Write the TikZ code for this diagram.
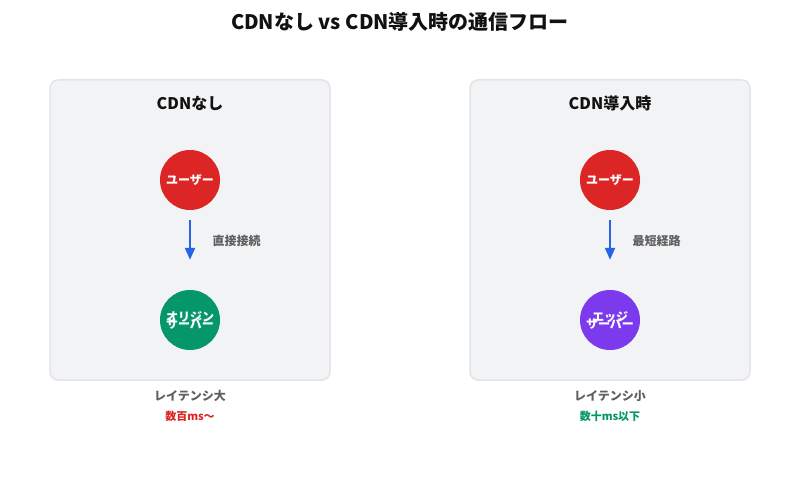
\documentclass[tikz,border=0pt]{standalone}
\usepackage{fontspec}
\setmainfont{Noto Sans CJK JP}
\usetikzlibrary{arrows.meta,positioning}
\definecolor{panelfill}{HTML}{F2F3F5}
\definecolor{paneldraw}{HTML}{E2E4E7}
\definecolor{usered}{HTML}{DC2626}
\definecolor{origingreen}{HTML}{059669}
\definecolor{edgepurple}{HTML}{7C3AED}
\definecolor{flowblue}{HTML}{2563EB}
\definecolor{textgray}{HTML}{5F5F5F}
\definecolor{titleblack}{HTML}{111111}
\tikzset{
    panel/.style = {
        draw=paneldraw,
        fill=panelfill,
        line width=1.5pt,
        rectangle,
        rounded corners=8pt,
        minimum width=280pt,
        minimum height=300pt
    },
    actor/.style = {
        circle,
        inner sep=0pt,
        minimum size=60pt,
        text=white,
        align=center,
        font=\fontsize{12}{14}\selectfont\bfseries
    },
    paneltitle/.style = {
        text=titleblack,
        font=\fontsize{16}{18}\selectfont\bfseries
    },
    lbl/.style = {
        text=textgray,
        font=\fontsize{12}{14}\selectfont\bfseries
    },
    note/.style = {
        font=\fontsize{11}{13}\selectfont\bfseries
    },
    flow/.style = {
        -{Triangle[length=12pt,width=10pt]},
        draw=flowblue,
        line width=2pt,
        shorten <=10pt,
        shorten >=30pt
    }
}
\begin{document}
\begin{tikzpicture}[x=1pt,y=-1pt,node distance=2cm]
    \useasboundingbox (0,0) rectangle (800,500);
    % title
    \node [text=titleblack,font=\fontsize{20}{24}\selectfont\bfseries] (title) at (400,22) {CDNなし vs CDN導入時の通信フロー};

    % nodes, left
    \node [panel] (panelA) at (190,230) {};
    \node [paneltitle] (titleA) at (190,103) {CDNなし};
    \node [actor,fill=usered,below of=titleA,node distance=77pt] (userA) {ユーザー};
    \node [actor,fill=origingreen,below of=userA,node distance=140pt] (origin) {オリジン\\[-7pt]サーバー};
    \node [lbl,anchor=west] (directlbl) at (209,241) {直接接続};
    \node [lbl,below of=origin,node distance=76pt] (latA) {レイテンシ大};
    \node [note,text=usered,below of=latA,node distance=20pt] (msA) {数百ms〜};

    % nodes, right
    \node [panel] (panelB) at (610,230) {};
    \node [paneltitle] (titleB) at (610,103) {CDN導入時};
    \node [actor,fill=usered,below of=titleB,node distance=77pt] (userB) {ユーザー};
    \node [actor,fill=edgepurple,below of=userB,node distance=140pt] (edge) {エッジ\\[-7pt]サーバー};
    \node [lbl,anchor=west] (shortlbl) at (629,241) {最短経路};
    \node [lbl,below of=edge,node distance=76pt] (latB) {レイテンシ小};
    \node [note,text=origingreen,below of=latB,node distance=20pt] (msB) {数十ms以下};

    % arrows
    \draw [flow] (userA) -- (origin);
    \draw [flow] (userB) -- (edge);
\end{tikzpicture}
\end{document}
